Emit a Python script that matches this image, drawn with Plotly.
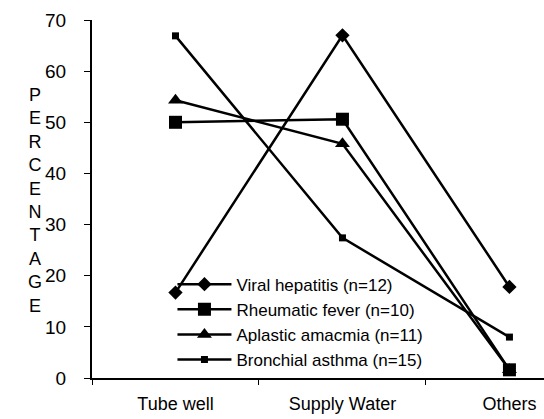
import plotly.graph_objects as go

# Water source categories
sources = ["Tube well", "Supply Water", "Others"]

# Percentage of patients per water source, by disease
viral_hepatitis = [16.7, 67.0, 17.8]
rheumatic_fever = [50.0, 50.6, 1.6]
aplastic_anaemia = [54.3, 45.8, 1.6]
bronchial_asthma = [66.9, 27.4, 8.0]

series_names = [
    "Viral hepatitis (n=12)",
    "Rheumatic fever (n=10)",
    "Aplastic amacmia (n=11)",
    "Bronchial asthma (n=15)",
]
y_ticks = [0, 10, 20, 30, 40, 50, 60, 70]

FONT = "Liberation Sans, Arial, sans-serif"

styles = [
    dict(symbol="diamond", size=11),
    dict(symbol="square", size=13),
    dict(symbol="triangle-up", size=13),
    dict(symbol="square", size=7),
]

fig = go.Figure()
for name, vals, st in zip(series_names,
                          [viral_hepatitis, rheumatic_fever, aplastic_anaemia, bronchial_asthma],
                          styles):
    fig.add_trace(go.Scatter(
        x=sources, y=vals, name=name, mode="lines+markers",
        line=dict(color="black", width=2.5),
        marker=dict(color="black", symbol=st["symbol"], size=st["size"]),
        cliponaxis=False,
    ))

fig.update_layout(
    width=544, height=419,
    margin=dict(l=92, r=0, t=20, b=41),
    paper_bgcolor="white", plot_bgcolor="white",
    font=dict(family=FONT, color="black"),
    showlegend=True,
    legend=dict(
        x=0.178, y=0.311, xanchor="left", yanchor="top",
        bgcolor="rgba(0,0,0,0)", font=dict(size=17, family=FONT),
        itemwidth=54, tracegroupgap=0,
    ),
    xaxis=dict(
        type="category", range=[-0.5, 2.207],
        showline=True, linecolor="black", linewidth=2,
        ticks="outside", tickson="boundaries", ticklen=5, tickcolor="black",
        showgrid=False, zeroline=False,
        tickfont=dict(size=18, family=FONT),
        ticklabelstandoff=8,
    ),
    yaxis=dict(
        range=[0, 70], tickvals=y_ticks,
        showline=True, linecolor="black", linewidth=2,
        ticks="outside", ticklen=6, tickcolor="black",
        showgrid=False, zeroline=False,
        tickfont=dict(size=19, family=FONT),
        ticklabelstandoff=14,
    ),
)

fig.add_annotation(
    text="<br>".join("PERCENTAGE"),
    xref="paper", yref="paper", x=-0.126, y=0.497,
    xanchor="center", yanchor="middle", showarrow=False,
    font=dict(size=18, family=FONT, color="black"),
)

fig.write_html("out.html")
